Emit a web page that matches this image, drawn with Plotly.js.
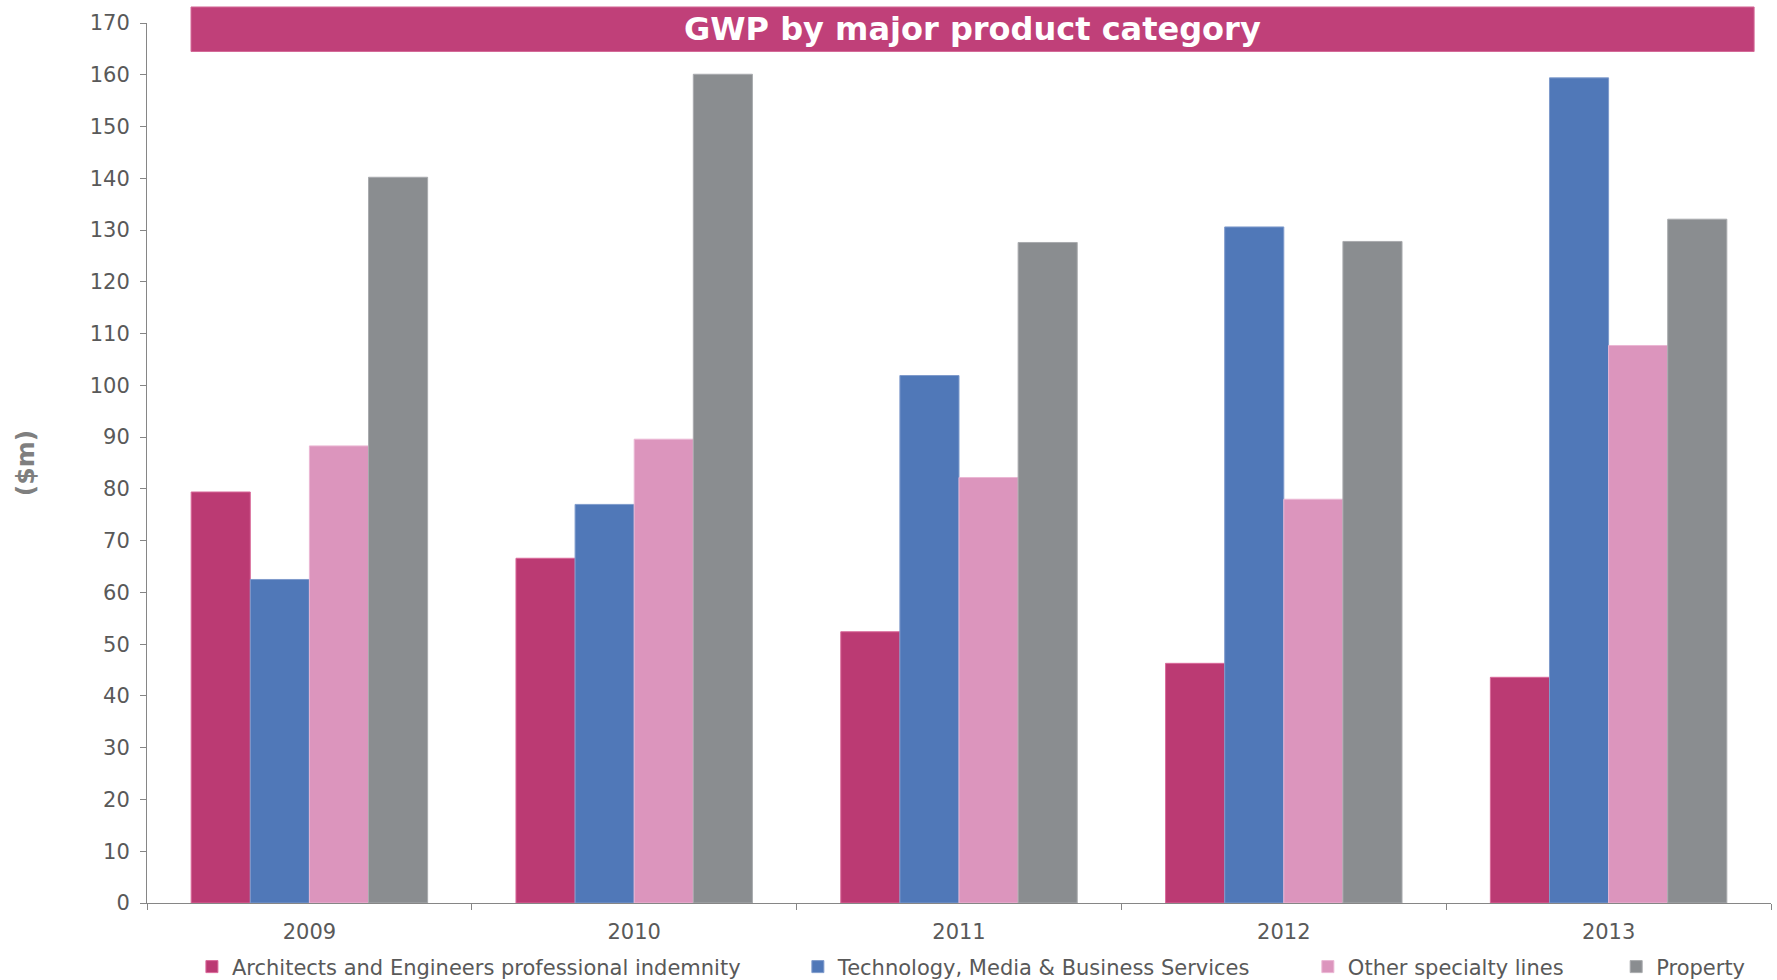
<!DOCTYPE html>
<html>
<head>
<meta charset="utf-8">
<script src="https://cdn.plot.ly/plotly-3.0.1.min.js"></script>
<style>html,body{margin:0;padding:0;background:#fff;}#chart{width:1777px;height:980px;}</style>
</head>
<body>
<div id="chart"></div>
<script>
const years = ["2009", "2010", "2011", "2012", "2013"];
const seriesNames = [
  "Architects and Engineers professional indemnity",
  "Technology, Media & Business Services",
  "Other specialty lines",
  "Property"
];
const architects = [79.4, 66.6, 52.4, 46.3, 43.6];
const technology = [62.5, 77.0, 101.9, 130.6, 159.4];
const otherLines = [88.3, 89.6, 82.2, 78.0, 107.7];
const property = [140.2, 160.1, 127.6, 127.8, 132.1];
const yTicks = [0,10,20,30,40,50,60,70,80,90,100,110,120,130,140,150,160,170];

const fills = ["#BB3A73", "#5078B8", "#DC95BD", "#8A8D90"];
const edges = ["#D9699A", "#7F9BCC", "#EBB7D4", "#A9ABAE"];
const values = [architects, technology, otherLines, property];
const legendIds = ["legend", "legend2", "legend3", "legend4"];
const legendX = [0.108, 0.449, 0.736, 0.9095];

const traces = values.map((v, i) => ({
  type: "bar",
  name: seriesNames[i],
  x: years,
  y: v,
  legend: legendIds[i],
  marker: {color: fills[i], line: {color: edges[i], width: 1}},
  hoverinfo: "x+y+name"
}));

const font = "'DejaVu Sans', Verdana, sans-serif";
const layout = {
  width: 1777, height: 980,
  margin: {l: 147, r: 6, t: 23, b: 77},
  paper_bgcolor: "#ffffff",
  plot_bgcolor: "#ffffff",
  barmode: "group",
  bargap: 0.272,
  bargroupgap: 0,
  font: {family: font, size: 21, color: "#595959"},
  showlegend: true,
  xaxis: {
    type: "category",
    showline: true, linecolor: "#868686", linewidth: 1,
    ticks: "outside", ticklen: 6, tickcolor: "#868686",
    tickson: "boundaries",
    showgrid: false, zeroline: false,
    tickfont: {family: font, size: 21, color: "#595959"},
    ticklabelstandoff: 10,
    fixedrange: true
  },
  yaxis: {
    range: [0, 170],
    tickvals: yTicks,
    ticktext: yTicks.map(String),
    showline: true, linecolor: "#868686", linewidth: 1,
    ticks: "outside", ticklen: 6, tickcolor: "#868686",
    showgrid: false, zeroline: false,
    tickfont: {family: font, size: 21, color: "#595959"},
    ticklabelstandoff: 6,
    title: {text: "<b>($m)</b>", font: {family: font, size: 25, color: "#7F7F7F"}, standoff: 47},
    fixedrange: true
  },
  shapes: [{
    type: "rect", xref: "paper", yref: "paper",
    x0: 0.0271, x1: 0.9896, y0: 0.9676, y1: 1.0182,
    fillcolor: "#C04079", line: {color: "#D46A98", width: 1},
    layer: "above"
  }],
  annotations: [{
    xref: "paper", yref: "paper",
    x: 0.5085, y: 0.993, xanchor: "center", yanchor: "middle",
    text: "<b>GWP by major product category</b>",
    showarrow: false,
    font: {family: font, size: 32, color: "#ffffff"}
  }]
};

legendIds.forEach((id, i) => {
  layout[id] = {
    orientation: "h",
    xref: "container", yref: "container",
    x: legendX[i], xanchor: "left",
    y: 0.0133, yanchor: "middle",
    font: {family: font, size: 21, color: "#595959"},
    itemwidth: 30,
    bgcolor: "rgba(0,0,0,0)"
  };
});

Plotly.newPlot("chart", traces, layout, {displayModeBar: false, staticPlot: true});
</script>
</body>
</html>
